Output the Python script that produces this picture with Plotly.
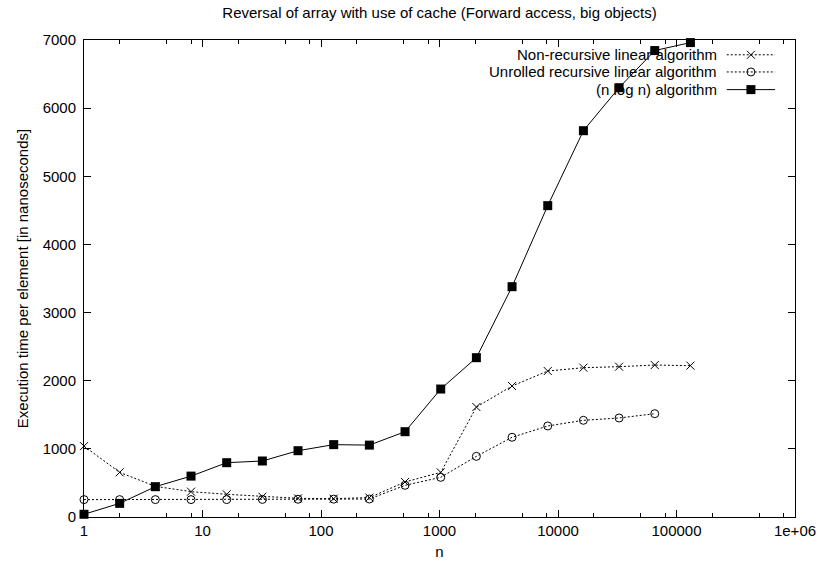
import plotly.graph_objects as go

# Problem sizes: powers of two from 1 to 131072
n_values = [2 ** k for k in range(18)]

# Execution time per element [ns]
non_recursive_linear = [1040, 655, 450, 372, 333, 298, 274, 269, 285, 514,
                        655, 1614, 1922, 2142, 2191, 2206, 2230, 2221]
unrolled_recursive_linear = [255, 255, 255, 255, 255, 258, 260, 262, 264, 465,
                             582, 890, 1170, 1336, 1419, 1453, 1516]
n_log_n = [40, 200, 445, 600, 797, 822, 973, 1062, 1055, 1252,
           1878, 2338, 3380, 4569, 5669, 6300, 6845, 6962]

series_names = ["Non-recursive linear algorithm",
                "Unrolled recursive linear algorithm",
                "(n log n) algorithm"]

x_tick_values = [1, 10, 100, 1000, 10000, 100000, 1000000]
x_tick_labels = ["1", "10", "100", "1000", "10000", "100000", "1e+06"]
y_tick_values = [0, 1000, 2000, 3000, 4000, 5000, 6000, 7000]

FONT = "Liberation Sans, Arial, Helvetica, sans-serif"
FS = 15
BLACK = "#000000"

minor_x = [m * 10 ** d for d in range(6) for m in (2, 5, 8)]

dotted = dict(color=BLACK, width=1, dash="2px,2px")
solid = dict(color=BLACK, width=1)

styles = [
    dict(line=dotted, marker=dict(symbol="x-thin-open", size=8,
                                  line=dict(color=BLACK, width=1), color=BLACK)),
    dict(line=dotted, marker=dict(symbol="circle-open", size=8,
                                  line=dict(color=BLACK, width=1), color=BLACK)),
    dict(line=solid, marker=dict(symbol="square", size=9, color=BLACK,
                                 line=dict(width=0))),
]

fig = go.Figure()

series_x = [n_values, n_values[:len(unrolled_recursive_linear)], n_values]
series_y = [non_recursive_linear, unrolled_recursive_linear, n_log_n]

for name, xs, ys, st in zip(series_names, series_x, series_y, styles):
    fig.add_trace(go.Scatter(x=xs, y=ys, mode="lines+markers", name=name,
                             line=st["line"], marker=st["marker"],
                             cliponaxis=False, showlegend=False))

# Key in the upper right corner: right-aligned text with a sample to its right
key_rows_y = [0.969, 0.933, 0.896]
key_text_x = 0.893
key_line_x = [0.904, 0.972]
for name, ky, st in zip(series_names, key_rows_y, styles):
    fig.add_trace(go.Scatter(x=key_line_x, y=[ky, ky], mode="lines",
                             line=st["line"], xaxis="x2", yaxis="y2",
                             showlegend=False, hoverinfo="skip"))
    fig.add_trace(go.Scatter(x=[sum(key_line_x) / 2], y=[ky], mode="markers",
                             marker=st["marker"], xaxis="x2", yaxis="y2",
                             showlegend=False, hoverinfo="skip"))
    fig.add_annotation(x=key_text_x, y=ky, xref="paper", yref="paper",
                       text=name, showarrow=False, xanchor="right",
                       yanchor="middle", font=dict(family=FONT, size=FS, color=BLACK))

axis_common = dict(showline=True, linecolor=BLACK, linewidth=1,
                   mirror="ticks", ticks="inside", ticklen=7, tickwidth=1,
                   tickcolor=BLACK, showgrid=False, zeroline=False,
                   automargin=False,
                   tickfont=dict(family=FONT, size=FS, color=BLACK))

fig.update_layout(
    width=822, height=567,
    margin=dict(l=84, r=27, t=40, b=50),
    paper_bgcolor="white", plot_bgcolor="white",
    font=dict(family=FONT, size=FS, color=BLACK),
    title=dict(text="Reversal of array with use of cache (Forward access, big objects)",
               x=0.5, xref="paper", xanchor="center",
               y=1 - 13 / 567, yref="container", yanchor="middle",
               font=dict(family=FONT, size=FS, color=BLACK)),
    xaxis=dict(type="log", range=[0, 6], tickvals=x_tick_values,
               ticktext=x_tick_labels,
               minor=dict(tickvals=minor_x, ticks="inside", ticklen=4,
                          tickcolor=BLACK, tickwidth=1, showgrid=False),
               title=dict(text="n", standoff=8,
                          font=dict(family=FONT, size=FS, color=BLACK)),
               **axis_common),
    yaxis=dict(range=[0, 7000], tickvals=y_tick_values, tickformat="d",
               ticklabelstandoff=4,
               title=dict(text="Execution time per element [in nanoseconds]",
                          standoff=10, font=dict(family=FONT, size=FS, color=BLACK)),
               **axis_common),
    xaxis2=dict(overlaying="x", range=[0, 1], visible=False, fixedrange=True),
    yaxis2=dict(overlaying="y", range=[0, 1], visible=False, fixedrange=True),
)

fig.write_html("out.html")
